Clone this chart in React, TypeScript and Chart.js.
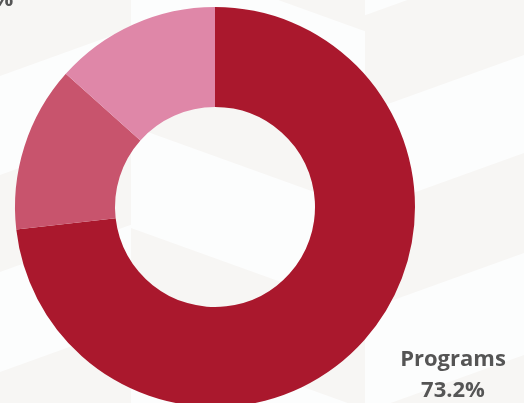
import { useEffect, useRef } from 'react';
import { Chart, registerables } from 'chart.js';

Chart.register(...registerables);

// ---- data ----
const categories: string[] = ['Programs', 'Administration', 'Fundraising'];
const shares: number[] = [73.2, 13.4, 13.4];
const sliceColors: string[] = ['#AA182D', '#C8546D', '#DF87A8'];

// label anchor offsets, in units of the outer radius, relative to the chart centre
const labelAnchors = [
  { dx: 1.19, dy: 0.795 },
  { dx: -1.7, dy: 0.1 },
  { dx: -1.1675, dy: -1.16 },
];

const backgroundPlugin = {
  id: 'isoBackground',
  beforeDraw(chart: any) {
    const ctx = chart.ctx as CanvasRenderingContext2D;
    const w = chart.width;
    const h = chart.height;
    ctx.save();
    ctx.fillStyle = '#FCFDFD';
    ctx.fillRect(0, 0, w, h);
    ctx.fillStyle = '#F7F6F4';
    const columns = [
      { x0: 0, x1: 131, xref: 0, s: -0.36, bands: [[-100, 76], [175, 272], [372, 470]] },
      { x0: 131, x1: 365, xref: 131, s: 0.36, bands: [[-150, -53], [26, 126], [228, 325], [425, 525]] },
      { x0: 365, x1: w, xref: 524, s: -0.36, bands: [[-42, 55], [153, 253], [355, 455]] },
    ];
    for (const c of columns) {
      const f = (b: number, x: number) => b + c.s * (x - c.xref);
      for (const [b1, b2] of c.bands) {
        ctx.beginPath();
        ctx.moveTo(c.x0, f(b1, c.x0));
        ctx.lineTo(c.x1, f(b1, c.x1));
        ctx.lineTo(c.x1, f(b2, c.x1));
        ctx.lineTo(c.x0, f(b2, c.x0));
        ctx.closePath();
        ctx.fill();
      }
    }
    ctx.restore();
  },
};

const labelPlugin = {
  id: 'outerLabels',
  afterDatasetsDraw(chart: any) {
    const ctx = chart.ctx as CanvasRenderingContext2D;
    const meta = chart.getDatasetMeta(0);
    ctx.save();
    ctx.font = 'bold 22px "Open Sans", "DejaVu Sans", sans-serif';
    ctx.fillStyle = '#555555';
    ctx.textAlign = 'center';
    ctx.textBaseline = 'alphabetic';
    meta.data.forEach((arc: any, i: number) => {
      const { x, y, outerRadius } = arc.getProps(['x', 'y', 'outerRadius'], true);
      const a = labelAnchors[i];
      const lx = x + a.dx * outerRadius;
      const ly = y + a.dy * outerRadius;
      ctx.fillText(categories[i], lx, ly);
      ctx.fillText(shares[i].toFixed(1) + '%', lx, ly + 31);
    });
    ctx.restore();
  },
};

export default function App() {
  const ref = useRef<HTMLCanvasElement>(null);
  useEffect(() => {
    const chart = new Chart(ref.current as HTMLCanvasElement, {
      type: 'doughnut',
      data: {
        labels: categories,
        datasets: [
          {
            data: shares,
            backgroundColor: sliceColors,
            borderWidth: 0,
            hoverOffset: 0,
            offset: 0,
          },
        ],
      },
      options: {
        responsive: false,
        animation: false,
        events: [],
        cutout: '50%',
        layout: { padding: { left: 15, right: 109, top: 7, bottom: 13 } },
        plugins: {
          legend: { display: false },
          tooltip: { enabled: false },
        },
      },
      plugins: [backgroundPlugin, labelPlugin],
    });
    return () => chart.destroy();
  }, []);
  return (
    <div
      style={{
        position: 'fixed',
        left: 0,
        top: 0,
        width: 524,
        height: 403,
        overflow: 'hidden',
        background: '#FCFDFD',
      }}
    >
      <canvas ref={ref} width={524} height={420} style={{ display: 'block', width: 524, height: 420 }} />
    </div>
  );
}
